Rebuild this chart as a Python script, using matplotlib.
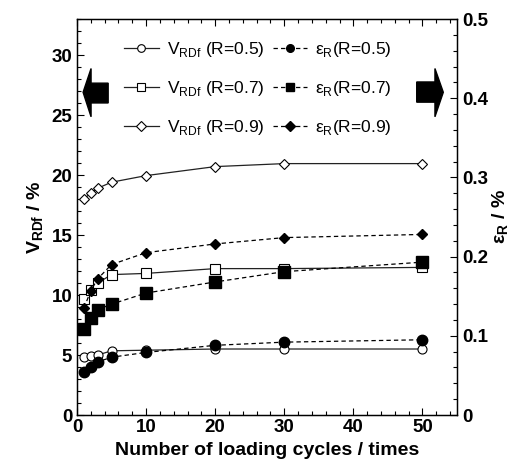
import matplotlib
matplotlib.use("Agg")
import matplotlib.pyplot as plt
from matplotlib.ticker import MultipleLocator
from matplotlib.patches import Polygon

plt.rcParams['font.family'] = ['Liberation Sans', 'DejaVu Sans']
plt.rcParams['mathtext.fontset'] = 'custom'
plt.rcParams['mathtext.rm'] = 'Liberation Sans'
plt.rcParams['mathtext.bf'] = 'Liberation Sans:bold'

cycles = [1, 2, 3, 5, 10, 20, 30, 50]
v_r05 = [4.8, 4.9, 5.0, 5.35, 5.4, 5.5, 5.5, 5.5]
v_r07 = [9.7, 10.4, 11.0, 11.7, 11.8, 12.2, 12.2, 12.3]
v_r09 = [18.0, 18.5, 18.9, 19.4, 19.95, 20.7, 20.95, 20.95]
e_r05 = [0.054, 0.061, 0.067, 0.073, 0.079, 0.088, 0.092, 0.095]
e_r07 = [0.108, 0.123, 0.133, 0.140, 0.154, 0.168, 0.181, 0.193]
e_r09 = [0.135, 0.157, 0.172, 0.190, 0.205, 0.216, 0.224, 0.228]
ratios = ['0.5', '0.7', '0.9']

fig = plt.figure(figsize=(5.26, 4.75), dpi=100)
ax = fig.add_axes([0.1464, 0.1263, 0.7224, 0.8337])
ax2 = ax.twinx()

vmarkers = ['o', 's', 'D']
vsizes = [6.5, 7.5, 5.0]
esizes = [7.5, 8.5, 5.5]
handles_v, handles_e = [], []
for i, (vals, m) in enumerate(zip([v_r05, v_r07, v_r09], vmarkers)):
    h, = ax.plot(cycles, vals, '-', color='#222222', lw=0.9, marker=m, ms=vsizes[i],
                 mfc='white', mec='black', mew=0.8,
                 label=r'V$_\mathregular{RDf}$ (R=%s)' % ratios[i])
    handles_v.append(h)
for i, (vals, m) in enumerate(zip([e_r05, e_r07, e_r09], vmarkers)):
    h, = ax2.plot(cycles, vals, '--', color='black', lw=0.9, dashes=(3.5, 2.5), marker=m,
                  ms=esizes[i], mfc='black', mec='black',
                  label='ε$_\mathregular{R}$(R=%s)' % ratios[i])
    handles_e.append(h)

ax.set_xlim(0, 55)
ax.set_ylim(0, 33)
ax2.set_ylim(0, 0.5)
ax.xaxis.set_major_locator(MultipleLocator(10))
ax.xaxis.set_minor_locator(MultipleLocator(2))
ax.yaxis.set_major_locator(MultipleLocator(5))
ax.yaxis.set_minor_locator(MultipleLocator(1))
ax2.set_yticks([0, 0.1, 0.2, 0.3, 0.4, 0.5])
ax2.set_yticklabels(['0', '0.1', '0.2', '0.3', '0.4', '0.5'])
ax2.yaxis.set_minor_locator(MultipleLocator(0.02))

ax.tick_params(axis='x', which='both', direction='in', top=True, labelsize=13.5, pad=3)
ax.tick_params(axis='y', which='both', direction='in', left=True, right=False, labelsize=13.5)
ax2.tick_params(axis='y', which='both', direction='in', right=True, labelsize=13.5)
for a in (ax, ax2):
    a.tick_params(which='major', length=5, width=0.8)
    a.tick_params(which='minor', length=3, width=0.8)
    for lbl in a.get_xticklabels() + a.get_yticklabels():
        lbl.set_fontweight('bold')
for s in ax.spines.values():
    s.set_linewidth(1.0)

ax.set_xlabel('Number of loading cycles / times', fontsize=14, fontweight='bold', labelpad=4)
ax.set_ylabel(r'V$_\mathregular{RDf}$ / %', fontsize=14, fontweight='bold', labelpad=4)
ax2.set_ylabel('ε$_\mathregular{R}$ / %', fontsize=14, fontweight='bold', labelpad=2)

handles = [handles_v[0], handles_v[1], handles_v[2], handles_e[0], handles_e[1], handles_e[2]]
leg = ax.legend(handles=handles, ncol=2, frameon=False, fontsize=12.5,
                loc='upper left', bbox_to_anchor=(0.092, 0.978),
                handlelength=2.0, handletextpad=0.45, columnspacing=0.5,
                labelspacing=1.15, borderaxespad=0.3)
for lh in leg.legend_handles:
    lh.set_markersize(5.5)

# big arrows (axes fraction coordinates)
left_arrow = Polygon([(0.016, 0.815), (0.037, 0.875), (0.037, 0.838), (0.082, 0.838),
                      (0.082, 0.788), (0.037, 0.788), (0.037, 0.753)],
                     closed=True, transform=ax.transAxes, color='black', clip_on=False)
right_arrow = Polygon([(0.964, 0.815), (0.942, 0.875), (0.942, 0.841), (0.894, 0.841),
                       (0.894, 0.790), (0.942, 0.790), (0.942, 0.753)],
                      closed=True, transform=ax.transAxes, color='black', clip_on=False)
ax.add_patch(left_arrow)
ax.add_patch(right_arrow)

fig.savefig('out.png', dpi=100)
